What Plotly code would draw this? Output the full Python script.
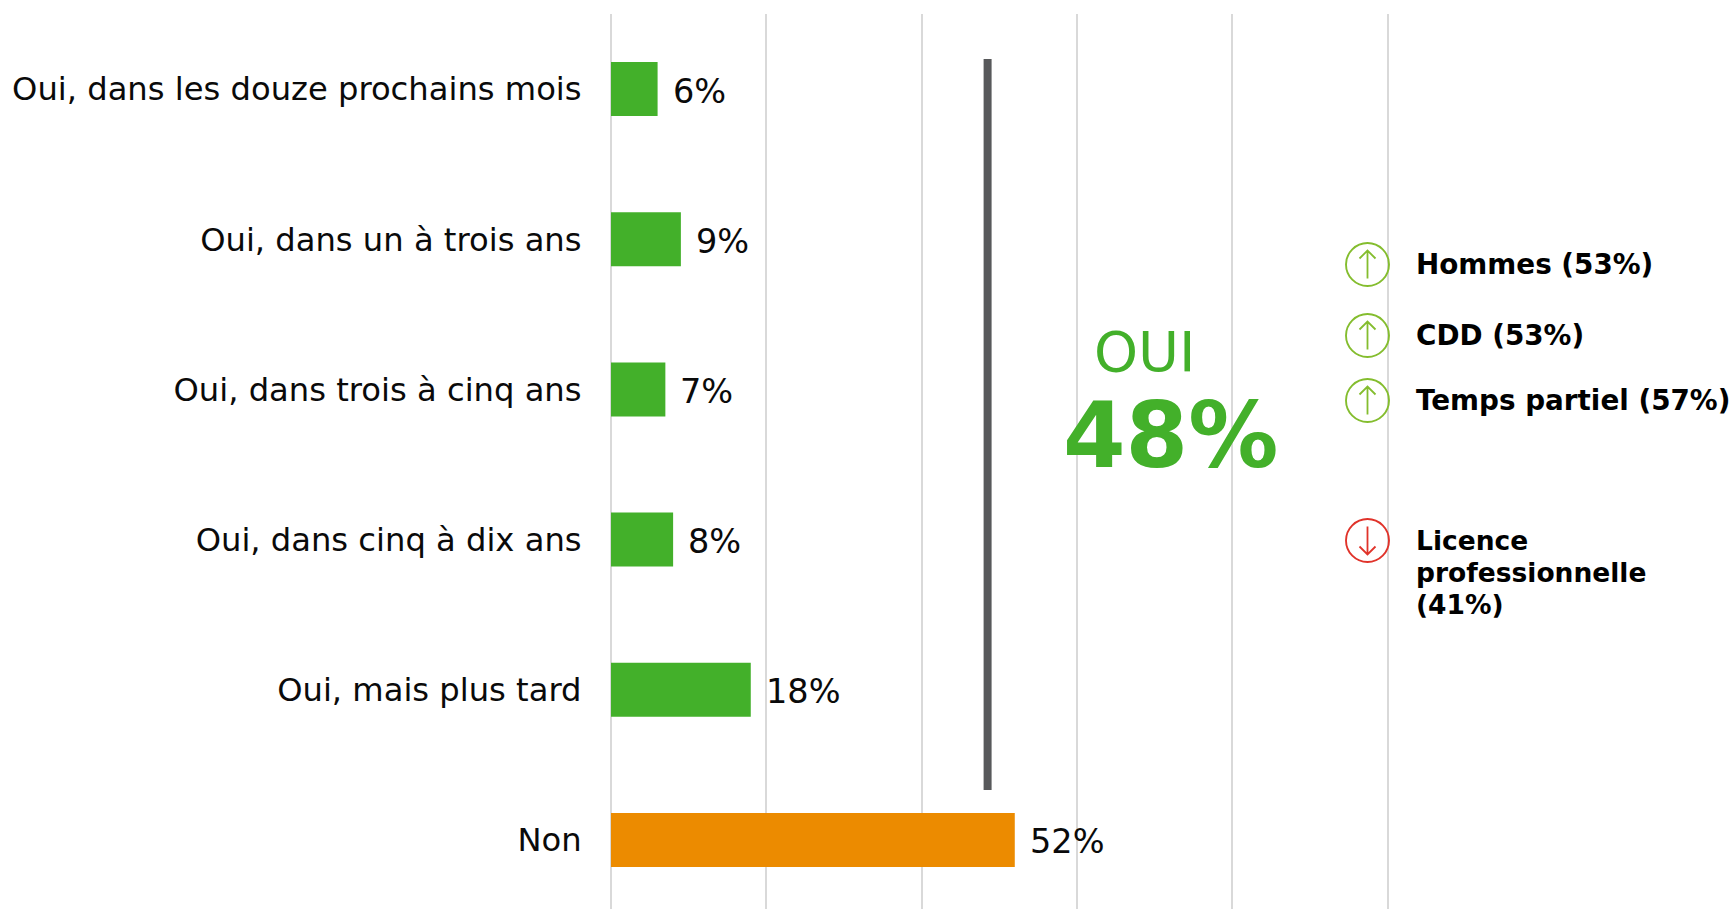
import plotly.graph_objects as go

categories = ["Oui, dans les douze prochains mois", "Oui, dans un à trois ans", "Oui, dans trois à cinq ans",
              "Oui, dans cinq à dix ans", "Oui, mais plus tard", "Non"]
values = [6, 9, 7, 8, 18, 52]
bar_colors = ["#43B02A"] * 5 + ["#EC8B00"]
grid_ticks = [0, 20, 40, 60, 80, 100]
up_items = [("Hommes (53%)", 264.5), ("CDD (53%)", 335.5), ("Temps partiel (57%)", 400.5)]
down_lines = ["Licence", "professionnelle", "(41%)"]
down_icon_y = 540.5

W, H = 1732, 909
ML, MT = 611, 14
FONT = "DejaVu Sans"
GREEN_ICON, RED_ICON = "#84BD2E", "#E0332A"

def px(x):
    return (x - ML) / (W - ML)

def py(y):
    return (H - y) / (H - MT)

fig = go.Figure(go.Bar(
    x=values, y=categories, orientation="h", width=0.36,
    marker=dict(color=bar_colors, line_width=0), showlegend=False,
))

annotations = [
    dict(x=v, y=c, xref="x", yref="y", text=f"{v}%", showarrow=False, xanchor="left", yanchor="middle",
         xshift=13, yshift=-2, font=dict(family=FONT, size=33.5, color="#0A0A0A"))
    for c, v in zip(categories, values)
]
annotations += [
    dict(x=px(1144.5), y=py(351), xref="paper", yref="paper", text="OUI", showarrow=False,
         xanchor="center", yanchor="middle", font=dict(family=FONT, size=56, color="#43B02A")),
    dict(x=px(1170), y=py(435), xref="paper", yref="paper", text="<b>48%</b>", showarrow=False,
         xanchor="center", yanchor="middle", font=dict(family=FONT, size=90, color="#43B02A")),
]

shapes = [dict(type="line", xref="x", yref="y", x0=48.5, x1=48.5, y0=-0.2, y1=4.667,
               line=dict(color="#58595B", width=8), layer="above")]

def icon(cy, color, up):
    cx = 1367.5
    r = 21.5
    tip, tail = (cy - 14, cy + 14) if up else (cy + 14, cy - 14)
    head = tip + (8 if up else -8)
    shapes.append(dict(type="circle", xref="paper", yref="paper",
                       x0=px(cx - r), x1=px(cx + r), y0=py(cy - r), y1=py(cy + r),
                       line=dict(color=color, width=1.9), layer="above"))
    path = (f"M {px(cx)} {py(tail)} L {px(cx)} {py(tip)} "
            f"M {px(cx - 8)} {py(head)} L {px(cx)} {py(tip)} L {px(cx + 8)} {py(head)}")
    shapes.append(dict(type="path", xref="paper", yref="paper", path=path,
                       line=dict(color=color, width=1.8), layer="above"))

def item_text(label, cy, size):
    annotations.append(dict(x=px(1414), y=py(cy), xref="paper", yref="paper", text=f"<b>{label}</b>",
                            showarrow=False, xanchor="left", yanchor="middle", align="left",
                            font=dict(family=FONT, size=size, color="#000000")))

for label, cy in up_items:
    icon(cy, GREEN_ICON, True)
    item_text(label, cy, 27.8)
icon(down_icon_y, RED_ICON, False)
for i, line in enumerate(down_lines):
    item_text(line, down_icon_y + i * 32, 26.5)

fig.update_layout(
    width=W, height=H, paper_bgcolor="white", plot_bgcolor="white",
    margin=dict(l=ML, r=0, t=MT, b=0, autoexpand=False),
    bargap=0.64, shapes=shapes, annotations=annotations,
    xaxis=dict(range=[0, (W - ML) / 7.765], tickvals=grid_ticks, showticklabels=False, showgrid=True,
               gridcolor="#D9D9D9", gridwidth=2, zeroline=True, zerolinecolor="#D9D9D9", zerolinewidth=2,
               showline=False, ticks=""),
    yaxis=dict(categoryorder="array", categoryarray=categories, range=[5.46, -0.5], showgrid=False,
               zeroline=False, showline=False, ticks="outside", ticklen=22, tickcolor="rgba(0,0,0,0)",
               tickfont=dict(family=FONT, size=32.2, color="#0A0A0A")),
)

fig.write_html("out.html", config=dict(displayModeBar=False),
               post_script="document.body.style.margin='0';document.body.style.overflow='hidden';")
